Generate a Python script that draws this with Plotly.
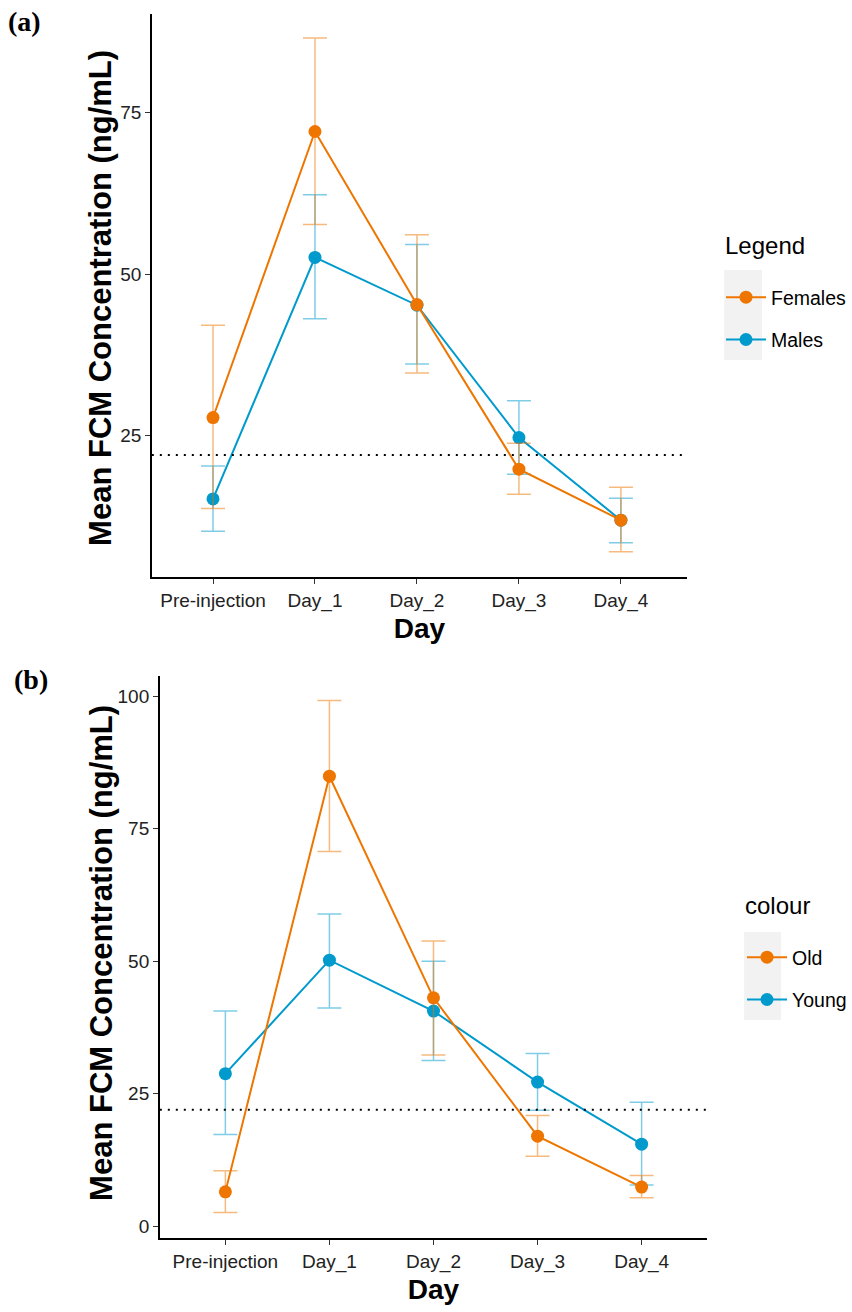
import plotly.graph_objects as go

days = ["Pre-injection", "Day_1", "Day_2", "Day_3", "Day_4"]

# Panel (a): sex
fem_mean = [27.8, 72.1, 45.3, 19.8, 11.9]
fem_upper = [42.1, 86.6, 56.1, 23.8, 17.0]
fem_lower = [13.7, 57.7, 34.7, 15.9, 7.0]
male_mean = [15.2, 52.6, 45.2, 24.7, 11.9]
male_upper = [20.3, 62.3, 54.6, 30.4, 15.3]
male_lower = [10.2, 43.1, 36.1, 19.0, 8.4]

# Panel (b): age
old_mean = [6.5, 84.9, 43.1, 17.0, 7.4]
old_upper = [10.5, 99.2, 53.8, 20.9, 9.6]
old_lower = [2.6, 70.7, 32.3, 13.2, 5.4]
young_mean = [28.8, 50.2, 40.6, 27.2, 15.5]
young_upper = [40.6, 58.9, 50.0, 32.6, 23.4]
young_lower = [17.3, 41.2, 31.3, 21.9, 7.8]

threshold = 22

ORANGE = "#EE7600"
BLUE = "#009ACD"
ORANGE_EB = "rgba(238,118,0,0.5)"
BLUE_EB = "rgba(0,154,205,0.5)"
FONT = "Liberation Sans"

W, H = 852, 1312
def px(x):
    return x / W
def py(y):
    return 1 - y / H

fig = go.Figure()

def add_series(name, mean, upper, lower, color, ebcolor, xa, ya, legend, rank):
    fig.add_trace(go.Scatter(
        x=days, y=mean, name=name, mode="lines+markers",
        xaxis=xa, yaxis=ya, legend=legend, legendgroup=name, legendrank=rank,
        line=dict(color=color, width=2),
        marker=dict(color=color, size=13),
        error_y=dict(type="data", symmetric=False,
                     array=[u - m for u, m in zip(upper, mean)],
                     arrayminus=[m - l for m, l in zip(mean, lower)],
                     color=ebcolor, thickness=1.5, width=12),
    ))

add_series("Males", male_mean, male_upper, male_lower, BLUE, BLUE_EB, "x", "y", "legend", 2)
add_series("Females", fem_mean, fem_upper, fem_lower, ORANGE, ORANGE_EB, "x", "y", "legend", 1)
add_series("Young", young_mean, young_upper, young_lower, BLUE, BLUE_EB, "x2", "y2", "legend2", 2)
add_series("Old", old_mean, old_upper, old_lower, ORANGE, ORANGE_EB, "x2", "y2", "legend2", 1)

axis_common = dict(showline=True, linecolor="black", linewidth=1.5, ticks="outside",
                   ticklen=5, tickwidth=1.2, tickcolor="#333333", showgrid=False,
                   zeroline=False, tickfont=dict(family=FONT, size=19, color="#222222"))

ytitle_font = dict(family=FONT, size=31, color="black", weight="bold")
xtitle_font = dict(family=FONT, size=28, color="black", weight="bold")
leg_font = dict(family=FONT, size=19.5, color="black")

fig.update_layout(
    width=W, height=H, margin=dict(l=0, r=0, t=0, b=0),
    paper_bgcolor="white", plot_bgcolor="white",
    font=dict(family=FONT),
    xaxis=dict(domain=[px(152), px(688)], anchor="y", range=[-0.6, 4.65],
               title=dict(text="Day", font=xtitle_font, standoff=8), **axis_common),
    yaxis=dict(domain=[py(577), py(14)], anchor="x", range=[3.1, 90.3],
               tickvals=[25, 50, 75], **axis_common),
    xaxis2=dict(domain=[px(160), px(708)], anchor="y2", range=[-0.63, 4.63],
                title=dict(text="Day", font=xtitle_font, standoff=8), **axis_common),
    yaxis2=dict(domain=[py(1238), py(676)], anchor="x2", range=[-2.2, 103.8],
                tickvals=[0, 25, 50, 75, 100], **axis_common),
    legend=dict(x=px(722), y=py(278), xanchor="left", yanchor="top",
                font=leg_font, bgcolor="rgba(0,0,0,0)", tracegroupgap=14, itemwidth=40),
    legend2=dict(x=px(742), y=py(938), xanchor="left", yanchor="top",
                 font=leg_font, bgcolor="rgba(0,0,0,0)", tracegroupgap=14, itemwidth=40),
    showlegend=True,
)

# y-axis titles
fig.add_annotation(text="Mean FCM Concentration (ng/mL)", xref="paper", yref="paper",
                   x=px(100), y=py(298), textangle=-90, showarrow=False,
                   xanchor="center", yanchor="middle", font=ytitle_font)
fig.add_annotation(text="Mean FCM Concentration (ng/mL)", xref="paper", yref="paper",
                   x=px(102), y=py(953), textangle=-90, showarrow=False,
                   xanchor="center", yanchor="middle", font=ytitle_font)

# legend titles
fig.add_annotation(text="Legend", xref="paper", yref="paper", x=px(724), y=py(245),
                   xanchor="left", yanchor="middle", showarrow=False,
                   font=dict(family=FONT, size=24, color="black"))
fig.add_annotation(text="colour", xref="paper", yref="paper", x=px(744), y=py(905),
                   xanchor="left", yanchor="middle", showarrow=False,
                   font=dict(family=FONT, size=24, color="black"))

# threshold lines
fig.add_shape(type="line", xref="x domain", yref="y", x0=0, x1=1, y0=threshold, y1=threshold,
              line=dict(color="black", width=2, dash="2px,6px"))
fig.add_shape(type="line", xref="x2 domain", yref="y2", x0=0, x1=1, y0=threshold, y1=threshold,
              line=dict(color="black", width=2, dash="2px,6px"))

# legend key backgrounds
fig.add_shape(type="rect", xref="paper", yref="paper", x0=px(725), x1=px(763), y0=py(360), y1=py(270),
              fillcolor="#F2F2F2", line=dict(width=0), layer="below")
fig.add_shape(type="rect", xref="paper", yref="paper", x0=px(745), x1=px(782), y0=py(1020), y1=py(932),
              fillcolor="#F2F2F2", line=dict(width=0), layer="below")

# panel labels
fig.add_annotation(text="<b>(a)</b>", xref="paper", yref="paper", x=px(6), y=py(4),
                   xanchor="left", yanchor="top", showarrow=False,
                   font=dict(family="Liberation Serif", size=28, color="black"))
fig.add_annotation(text="<b>(b)</b>", xref="paper", yref="paper", x=px(12), y=py(662),
                   xanchor="left", yanchor="top", showarrow=False,
                   font=dict(family="Liberation Serif", size=28, color="black"))

fig.write_html("out.html")
